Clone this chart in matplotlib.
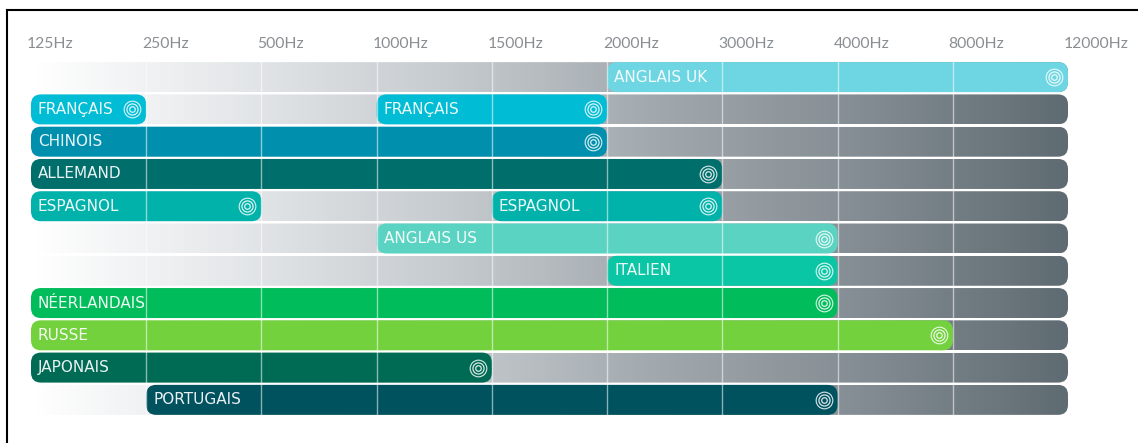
"""Language frequency bands chart."""

import matplotlib
matplotlib.use("Agg")
import matplotlib.pyplot as plt
from matplotlib.lines import Line2D
from matplotlib.patches import FancyBboxPatch
import numpy as np

plt.rcParams['font.family'] = ['Lato', 'DejaVu Sans']

# Data
freq_labels = ['125Hz', '250Hz', '500Hz', '1000Hz', '1500Hz', '2000Hz',
               '3000Hz', '4000Hz', '8000Hz', '12000Hz']
languages = ['ANGLAIS UK', 'FRANÇAIS', 'CHINOIS', 'ALLEMAND', 'ESPAGNOL', 'ANGLAIS US',
             'ITALIEN', 'NÉERLANDAIS', 'RUSSE', 'JAPONAIS', 'PORTUGAIS']
# each language covers one or two bands, as (first column, last column) on the frequency scale
bands = [[(5, 9)], [(0, 1), (3, 5)], [(0, 5)], [(0, 6)], [(0, 2), (4, 6)], [(3, 7)],
         [(5, 7)], [(0, 7)], [(0, 8)], [(0, 4)], [(1, 7)]]
colors = ['#6DD6E2', '#00BCD4', '#008FAD', '#006E6B', '#00B2AA', '#5BD3C2',
          '#0BC6A4', '#00BC5A', '#72D13D', '#006B55', '#00525F']

W, H = 1138, 443
LEFT, RIGHT, TOP, BOTTOM = 31, 1068, 61, 416
n_cols = len(freq_labels) - 1
n_rows = len(languages)

fig = plt.figure(figsize=(W / 100, H / 100), dpi=100)
ax = fig.add_axes([LEFT / W, 1 - BOTTOM / H, (RIGHT - LEFT) / W, (BOTTOM - TOP) / H])
ax.set_xlim(0, n_cols)
ax.set_ylim(n_rows - 0.5, -0.5)
ax.axis('off')

px_x = n_cols / (RIGHT - LEFT)
px_y = n_rows / (BOTTOM - TOP)
bar_h = 30 * px_y
radius = 10 * px_x
aspect = px_y / px_x

# grey ramp used behind every row
ramp = np.linspace(0, 1, 256).reshape(1, -1)
cmap = matplotlib.colors.LinearSegmentedColormap.from_list(
    'ramp', ['#FFFFFF', '#E4E7E9', '#C6CBCF', '#A2A9AE', '#848D93', '#5F6B72'])


def rounded(x0, x1, row, color):
    patch = FancyBboxPatch((x0, row - bar_h / 2), x1 - x0, bar_h,
                           boxstyle=f"round,pad=0,rounding_size={radius}",
                           mutation_aspect=aspect, facecolor=color, edgecolor='none',
                           clip_on=False)
    ax.add_patch(patch)
    return patch


for row in range(n_rows):
    clip = rounded(0, n_cols, row, 'none')
    im = ax.imshow(ramp, extent=(0, n_cols, row + bar_h / 2, row - bar_h / 2), aspect='auto',
                   cmap=cmap, vmin=0, vmax=1, zorder=1)
    im.set_clip_path(clip)

for row, (name, spans, color) in enumerate(zip(languages, bands, colors)):
    for start, end in spans:
        rounded(start, end, row, color).set_zorder(2)
        ax.annotate(name, (start, row), xytext=(5, 0), textcoords='offset points',
                    color='white', family=['DejaVu Sans'], fontsize=11,
                    va='center', ha='left', alpha=0.92, zorder=5)
        # target icon at the end of the band
        x_icon = end - 14 * px_x
        ax.plot([x_icon], [row], 'o', ms=12, mfc='none', mec='white', mew=0.8, alpha=0.85, zorder=5)
        ax.plot([x_icon], [row], 'o', ms=8, mfc='none', mec='white', mew=0.9, alpha=0.85, zorder=5)
        ax.plot([x_icon], [row], 'o', ms=4, mfc='none', mec='white', mew=0.9, alpha=0.85, zorder=5)

# column separators
for col in range(1, n_cols):
    ax.vlines(col, -0.5, n_rows - 0.5, color='white', lw=1, alpha=0.55, zorder=4)

# tick labels sit just left of each column line
for col, label in enumerate(freq_labels):
    ax.annotate(label, (col, -0.5), xytext=(-3, 12), textcoords='offset points',
                color='#8A8E92', fontsize=11.3, ha='left', va='center',
                annotation_clip=False)

# black frame of the screenshot, top and left only
fig.add_artist(Line2D([7 / W, 7 / W], [0, 1 - 10 / H], color='black', lw=1.5))
fig.add_artist(Line2D([7 / W, 1], [1 - 10 / H, 1 - 10 / H], color='black', lw=1.5))

fig.savefig('out.png', dpi=100)
